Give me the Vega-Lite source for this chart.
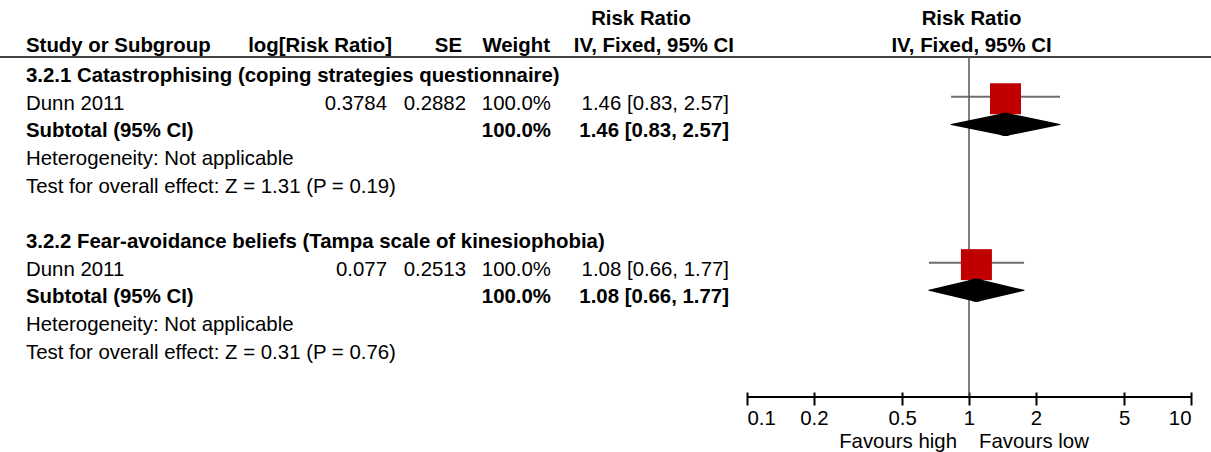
{
  "$schema": "https://vega.github.io/schema/vega-lite/v6.json",
  "width": 1211,
  "height": 397,
  "autosize": {"type": "none"},
  "padding": {"left": 0, "top": 0, "right": 0, "bottom": 55},
  "background": "white",
  "config": {
    "view": {"stroke": null},
    "font": "Liberation Sans",
    "text": {"font": "Liberation Sans", "fontSize": 20.4, "color": "#000", "baseline": "middle", "dy": 2}
  },
  "datasets": {
    "header": [
      {"line": 0, "ci": "Risk Ratio", "plot": "Risk Ratio"},
      {"line": 1, "study": "Study or Subgroup", "logrr": "log[Risk Ratio]", "se": "SE", "weight": "Weight", "ci": "IV, Fixed, 95% CI", "plot": "IV, Fixed, 95% CI"}
    ],
    "rows": [
      {"line": 2, "kind": "group", "label": "3.2.1 Catastrophising (coping strategies questionnaire)"},
      {"line": 3, "kind": "study", "label": "Dunn 2011", "logrr": "0.3784", "se": "0.2882", "weight": "100.0%", "ci": "1.46 [0.83, 2.57]", "est": 1.46, "lo": 0.83, "hi": 2.57},
      {"line": 4, "kind": "subtotal", "label": "Subtotal (95% CI)", "weight": "100.0%", "ci": "1.46 [0.83, 2.57]", "est": 1.46, "lo": 0.83, "hi": 2.57},
      {"line": 5, "kind": "note", "label": "Heterogeneity: Not applicable"},
      {"line": 6, "kind": "note", "label": "Test for overall effect: Z = 1.31 (P = 0.19)"},
      {"line": 8, "kind": "group", "label": "3.2.2 Fear-avoidance beliefs (Tampa scale of kinesiophobia)"},
      {"line": 9, "kind": "study", "label": "Dunn 2011", "logrr": "0.077", "se": "0.2513", "weight": "100.0%", "ci": "1.08 [0.66, 1.77]", "est": 1.08, "lo": 0.66, "hi": 1.77},
      {"line": 10, "kind": "subtotal", "label": "Subtotal (95% CI)", "weight": "100.0%", "ci": "1.08 [0.66, 1.77]", "est": 1.08, "lo": 0.66, "hi": 1.77},
      {"line": 11, "kind": "note", "label": "Heterogeneity: Not applicable"},
      {"line": 12, "kind": "note", "label": "Test for overall effect: Z = 0.31 (P = 0.76)"}
    ],
    "one": [{"id": 1}]
  },
  "layer": [
    {
      "data": {"name": "rows"},
      "transform": [{"filter": "datum.kind === 'study'"}],
      "mark": {"type": "rule", "color": "#6e6e6e", "strokeWidth": 2, "yOffset": -5},
      "encoding": {
        "x": {"field": "lo", "type": "quantitative",
          "scale": {"type": "log", "domain": [0.1, 10], "range": [747, 1191], "nice": false},
          "axis": {"values": [0.1, 0.2, 0.5, 1, 2, 5, 10], "format": "~g", "domain": false, "grid": false, "tickSize": 13, "tickWidth": 2, "tickColor": "#000", "offset": -5, "labelFontSize": 20.4, "labelFont": "Liberation Sans", "labelColor": "#000", "labelPadding": 3, "labelFlush": true, "labelOverlap": false, "title": null}},
        "x2": {"field": "hi"},
        "y": {"field": "line", "type": "quantitative", "scale": {"domain": [0, 12], "range": [18.8, 350.6], "nice": false, "zero": false}, "axis": null}
      }
    },
    {
      "data": {"name": "one"},
      "mark": {"type": "rule", "color": "#444", "strokeWidth": 2},
      "encoding": {"x": {"value": 0}, "x2": {"value": 1211}, "y": {"datum": 1.38, "type": "quantitative"}}
    },
    {
      "data": {"name": "one"},
      "mark": {"type": "rule", "color": "#555", "strokeWidth": 1.5},
      "encoding": {"x": {"datum": 1, "type": "quantitative"}, "y": {"datum": 1.38, "type": "quantitative"}, "y2": {"datum": 13.68}}
    },
    {
      "data": {"name": "rows"},
      "transform": [{"filter": "datum.kind === 'study'"}],
      "mark": {"type": "point", "shape": "square", "filled": true, "size": 961, "color": "#C00000", "opacity": 1, "yOffset": -3},
      "encoding": {"x": {"field": "est", "type": "quantitative"}, "y": {"field": "line", "type": "quantitative"}}
    },
    {
      "data": {"name": "rows"},
      "transform": [{"filter": "datum.kind === 'subtotal'"}, {"fold": ["lo", "est", "hi"]}],
      "mark": {"type": "trail", "color": "#000", "yOffset": -5},
      "encoding": {
        "x": {"field": "value", "type": "quantitative"},
        "y": {"field": "line", "type": "quantitative"},
        "detail": {"field": "line", "type": "nominal"},
        "order": {"field": "value", "type": "quantitative"},
        "size": {"condition": {"test": "datum.key === 'est'", "value": 23.4}, "value": 0}
      }
    },
    {
      "data": {"name": "one"},
      "mark": {"type": "rule", "color": "#000", "strokeWidth": 2},
      "encoding": {"x": {"datum": 0.1, "type": "quantitative"}, "x2": {"datum": 10}, "y": {"datum": 13.68, "type": "quantitative"}}
    },
    {
      "data": {"name": "one"},
      "mark": {"type": "text", "align": "right", "dx": -12, "dy": 0},
      "encoding": {"x": {"datum": 1, "type": "quantitative"}, "y": {"datum": 15.3, "type": "quantitative"}, "text": {"value": "Favours high"}}
    },
    {
      "data": {"name": "one"},
      "mark": {"type": "text", "align": "left", "dx": 10, "dy": 0},
      "encoding": {"x": {"datum": 1, "type": "quantitative"}, "y": {"datum": 15.3, "type": "quantitative"}, "text": {"value": "Favours low"}}
    },
    {
      "data": {"name": "header"},
      "transform": [{"filter": "datum.line === 1"}],
      "mark": {"type": "text", "align": "left", "fontWeight": "bold", "dy": 0},
      "encoding": {"x": {"value": 26}, "y": {"field": "line", "type": "quantitative"}, "text": {"field": "study"}}
    },
    {
      "data": {"name": "header"},
      "transform": [{"filter": "datum.line === 1"}],
      "mark": {"type": "text", "align": "right", "fontWeight": "bold", "dy": 0},
      "encoding": {"x": {"value": 392}, "y": {"field": "line", "type": "quantitative"}, "text": {"field": "logrr"}}
    },
    {
      "data": {"name": "header"},
      "transform": [{"filter": "datum.line === 1"}],
      "mark": {"type": "text", "align": "right", "fontWeight": "bold", "dy": 0},
      "encoding": {"x": {"value": 462}, "y": {"field": "line", "type": "quantitative"}, "text": {"field": "se"}}
    },
    {
      "data": {"name": "header"},
      "transform": [{"filter": "datum.line === 1"}],
      "mark": {"type": "text", "align": "right", "fontWeight": "bold", "dy": 0},
      "encoding": {"x": {"value": 550}, "y": {"field": "line", "type": "quantitative"}, "text": {"field": "weight"}}
    },
    {
      "data": {"name": "header"},
      "transform": [{"filter": "datum.line === 1"}],
      "mark": {"type": "text", "align": "right", "fontWeight": "bold", "dy": 0},
      "encoding": {"x": {"value": 734}, "y": {"field": "line", "type": "quantitative"}, "text": {"field": "ci"}}
    },
    {
      "data": {"name": "header"},
      "transform": [{"filter": "datum.line === 0"}],
      "mark": {"type": "text", "align": "center", "fontWeight": "bold", "dy": 0},
      "encoding": {"x": {"value": 641}, "y": {"field": "line", "type": "quantitative"}, "text": {"field": "ci"}}
    },
    {
      "data": {"name": "header"},
      "mark": {"type": "text", "align": "center", "fontWeight": "bold", "dy": 0},
      "encoding": {"x": {"value": 971.5}, "y": {"field": "line", "type": "quantitative"}, "text": {"field": "plot"}}
    },
    {
      "data": {"name": "rows"},
      "transform": [{"filter": "datum.kind === 'group' || datum.kind === 'subtotal'"}],
      "mark": {"type": "text", "align": "left", "fontWeight": "bold"},
      "encoding": {"x": {"value": 26}, "y": {"field": "line", "type": "quantitative"}, "text": {"field": "label"}}
    },
    {
      "data": {"name": "rows"},
      "transform": [{"filter": "datum.kind === 'study' || datum.kind === 'note'"}],
      "mark": {"type": "text", "align": "left"},
      "encoding": {"x": {"value": 26}, "y": {"field": "line", "type": "quantitative"}, "text": {"field": "label"}}
    },
    {
      "data": {"name": "rows"},
      "transform": [{"filter": "datum.kind === 'study'"}],
      "mark": {"type": "text", "align": "right"},
      "encoding": {"x": {"value": 387}, "y": {"field": "line", "type": "quantitative"}, "text": {"field": "logrr"}}
    },
    {
      "data": {"name": "rows"},
      "transform": [{"filter": "datum.kind === 'study'"}],
      "mark": {"type": "text", "align": "right"},
      "encoding": {"x": {"value": 466}, "y": {"field": "line", "type": "quantitative"}, "text": {"field": "se"}}
    },
    {
      "data": {"name": "rows"},
      "transform": [{"filter": "datum.kind === 'study'"}],
      "mark": {"type": "text", "align": "right"},
      "encoding": {"x": {"value": 551}, "y": {"field": "line", "type": "quantitative"}, "text": {"field": "weight"}}
    },
    {
      "data": {"name": "rows"},
      "transform": [{"filter": "datum.kind === 'subtotal'"}],
      "mark": {"type": "text", "align": "right", "fontWeight": "bold"},
      "encoding": {"x": {"value": 551}, "y": {"field": "line", "type": "quantitative"}, "text": {"field": "weight"}}
    },
    {
      "data": {"name": "rows"},
      "transform": [{"filter": "datum.kind === 'study'"}],
      "mark": {"type": "text", "align": "right"},
      "encoding": {"x": {"value": 729}, "y": {"field": "line", "type": "quantitative"}, "text": {"field": "ci"}}
    },
    {
      "data": {"name": "rows"},
      "transform": [{"filter": "datum.kind === 'subtotal'"}],
      "mark": {"type": "text", "align": "right", "fontWeight": "bold"},
      "encoding": {"x": {"value": 729}, "y": {"field": "line", "type": "quantitative"}, "text": {"field": "ci"}}
    }
  ]
}
